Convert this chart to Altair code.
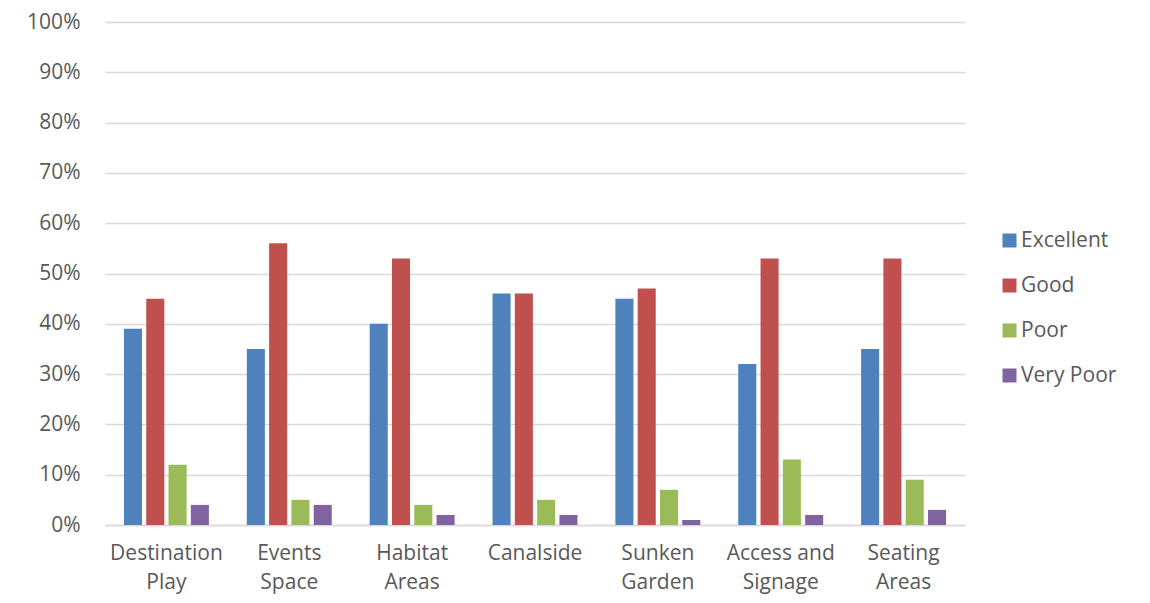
import altair as alt
import pandas as pd

categories = ["Destination Play", "Events Space", "Habitat Areas", "Canalside",
              "Sunken Garden", "Access and Signage", "Seating Areas"]
label_lines = [["Destination", "Play"], ["Events", "Space"], ["Habitat", "Areas"],
               ["Canalside"], ["Sunken", "Garden"], ["Access and", "Signage"],
               ["Seating", "Areas"]]
series = ["Excellent", "Good", "Poor", "Very Poor"]
colors = ["#4F81BD", "#C0504D", "#9BBB59", "#8064A2"]
excellent = [39, 35, 40, 46, 45, 32, 35]
good = [45, 56, 53, 46, 47, 53, 53]
poor = [12, 5, 4, 5, 7, 13, 9]
very_poor = [4, 4, 2, 2, 1, 2, 3]
y_ticks = [0, 10, 20, 30, 40, 50, 60, 70, 80, 90, 100]

rows = []
for s, vals in zip(series, [excellent, good, poor, very_poor]):
    for c, v in zip(categories, vals):
        rows.append({"Category": c, "Series": s, "Value": v})
df = pd.DataFrame(rows)

expr = "datum.label"
for c, lines in reversed(list(zip(categories, label_lines))):
    arr = "[" + ",".join("'" + l + "'" for l in lines) + "]"
    expr = f"datum.label == '{c}' ? {arr} : ({expr})"

FONT = "Open Sans"
TXT = "#595959"

chart = alt.Chart(df).mark_bar().encode(
    x=alt.X("Category:N", sort=categories, title=None,
            scale=alt.Scale(paddingInner=0, paddingOuter=0),
            axis=alt.Axis(labelAngle=0, labelExpr=expr, ticks=False,
                          domainColor="#d9d9d9", domainWidth=1.5,
                          labelFontSize=21, labelColor=TXT, labelFont=FONT,
                          labelPadding=17, labelLineHeight=29, labelLimit=200)),
    xOffset=alt.XOffset("Series:N", sort=series,
                        scale=alt.Scale(paddingInner=0.19, paddingOuter=0.85)),
    y=alt.Y("Value:Q", title=None,
            scale=alt.Scale(domain=[0, 100], nice=False),
            axis=alt.Axis(values=y_ticks, labelExpr="datum.value + '%'",
                          ticks=False, domain=False, gridColor="#d9d9d9",
                          gridWidth=1.5, labelFontSize=21, labelColor=TXT,
                          labelFont=FONT, labelPadding=25)),
    color=alt.Color("Series:N", sort=series,
                    scale=alt.Scale(domain=series, range=colors),
                    legend=alt.Legend(title=None, orient="none", legendX=894,
                                      legendY=208, symbolType="square",
                                      symbolSize=196, symbolStrokeWidth=0,
                                      labelFontSize=21, labelColor=TXT,
                                      labelFont=FONT, rowPadding=23,
                                      labelOffset=1, padding=0)),
).properties(
    width=860, height=503,
    autosize=alt.AutoSizeParams(type="none"),
    padding={"left": 97, "top": 14, "right": 175, "bottom": 70},
).configure_view(stroke=None)

chart.save("out.html", embed_options={"renderer": "svg", "actions": False})
